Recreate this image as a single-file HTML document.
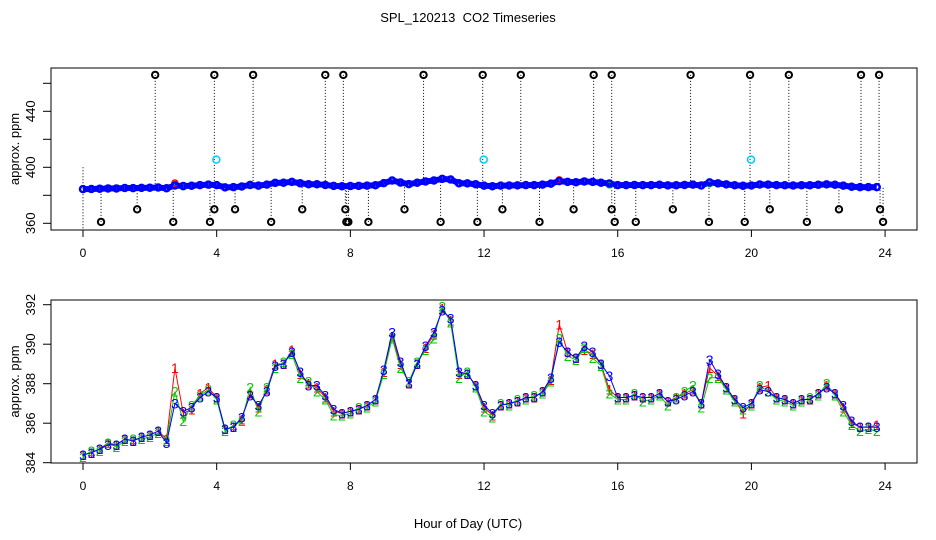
<!DOCTYPE html>
<html><head><meta charset="utf-8">
<style>
body{margin:0;background:#fff;}
svg{display:block;font-family:"Liberation Sans",sans-serif;}
</style></head>
<body>
<svg id="chart" width="936" height="540" viewBox="0 0 936 540" xmlns="http://www.w3.org/2000/svg">
<rect width="936" height="540" fill="#fff"/>
<text x="468" y="22" font-size="13" text-anchor="middle" xml:space="preserve">SPL_120213  CO2 Timeseries</text>
<text x="468" y="528" font-size="13" text-anchor="middle">Hour of Day (UTC)</text>
<g id="top"></g>
<g id="bot"></g>
</svg>
<script>
const hours = [0,0.25,0.5,0.75,1,1.25,1.5,1.75,2,2.25,2.5,2.75,3,3.25,3.5,3.75,4,4.25,4.5,4.75,5,5.25,5.5,5.75,6,6.25,6.5,6.75,7,7.25,7.5,7.75,8,8.25,8.5,8.75,9,9.25,9.5,9.75,10,10.25,10.5,10.75,11,11.25,11.5,11.75,12,12.25,12.5,12.75,13,13.25,13.5,13.75,14,14.25,14.5,14.75,15,15.25,15.5,15.75,16,16.25,16.5,16.75,17,17.25,17.5,17.75,18,18.25,18.5,18.75,19,19.25,19.5,19.75,20,20.25,20.5,20.75,21,21.25,21.5,21.75,22,22.25,22.5,22.75,23,23.25,23.5,23.75];
const series1 = [384.4,384.5,384.7,385.0,384.9,385.2,385.1,385.3,385.4,385.6,385.2,388.8,386.5,386.7,387.5,387.8,387.3,385.7,385.8,386.2,387.5,386.8,387.7,389.0,389.0,389.7,388.5,388.0,387.8,387.3,386.6,386.5,386.6,386.7,386.9,387.2,388.6,390.4,389.0,388.0,389.0,389.8,390.5,391.8,391.2,388.5,388.5,387.9,386.8,386.4,386.9,387.0,387.1,387.3,387.3,387.6,388.2,391.0,389.6,389.3,389.7,389.5,389.0,387.7,387.3,387.3,387.4,387.3,387.3,387.5,387.1,387.3,387.5,387.7,387.0,388.8,388.4,387.8,387.2,386.5,387.0,387.8,387.9,387.3,387.2,387.0,387.2,387.2,387.5,387.9,387.5,386.8,386.0,385.8,385.8,385.9];
const series2 = [384.3,384.6,384.6,385.0,384.8,385.1,385.2,385.2,385.3,385.5,385.1,387.6,386.1,386.9,387.4,387.7,387.2,385.6,385.9,386.1,387.8,386.6,387.8,388.8,389.1,389.5,388.3,388.1,387.6,387.2,386.4,386.4,386.5,386.8,386.8,387.1,388.5,390.3,388.8,388.1,389.1,389.7,390.3,391.9,391.1,388.3,388.6,387.8,386.6,386.3,387.0,386.9,387.2,387.2,387.4,387.5,388.1,390.3,389.4,389.2,389.8,389.3,388.9,387.5,387.2,387.2,387.5,387.1,387.2,387.4,386.9,387.3,387.6,387.9,386.8,388.3,388.3,387.7,387.1,386.7,386.9,387.9,387.6,387.2,387.1,386.9,387.1,387.3,387.4,388.0,387.4,386.6,385.9,385.6,385.7,385.6];
const series3 = [384.4,384.5,384.7,384.9,384.9,385.2,385.1,385.3,385.4,385.6,385.0,387.0,386.6,386.8,387.3,387.6,387.3,385.7,385.8,386.3,387.4,386.9,387.6,388.9,389.0,389.6,388.6,387.9,387.9,387.4,386.7,386.5,386.6,386.7,386.9,387.2,388.7,390.6,389.1,388.0,389.0,389.9,390.6,391.7,391.3,388.6,388.5,387.9,386.9,386.5,386.9,387.0,387.1,387.3,387.3,387.6,388.3,390.1,389.6,389.3,389.9,389.6,389.0,388.4,387.3,387.3,387.4,387.3,387.3,387.5,387.1,387.2,387.4,387.6,387.0,389.2,388.5,387.8,387.2,386.8,387.0,387.7,387.6,387.3,387.2,387.0,387.2,387.2,387.5,387.8,387.5,386.9,386.1,385.8,385.8,385.8];
const outlierHours = [2.16,3.93,5.09,7.25,7.79,10.19,11.96,13.1,15.28,15.82,18.18,19.96,21.12,23.28,23.82,0.54,2.7,3.8,5.63,7.88,7.94,8.54,10.7,11.8,13.66,15.91,16.54,18.73,19.8,21.66,23.94,1.62,3.93,4.55,6.56,7.85,9.62,12.55,14.68,15.82,17.65,20.55,22.62,23.85];
const outlierValues = [466,466,466,466,466,466,466,466,466,466,466,466,466,466,466,361,361,361,361,361,361,361,361,361,361,361,361,361,361,361,361,370,370,370,370,370,370,370,370,370,370,370,370,370];
const cyanHours = [3.99,11.99,19.99];
const cyanValues = [405.5,405.5,405.5];
const xTicks = [0,4,8,12,16,20,24];
const topYTicks = [360,380,400,420,440,460];
const topYLabels = [360,400,440];
const botYTicks = [384,386,388,390,392];

const NS='http://www.w3.org/2000/svg';
function mk(parent,tag,attrs){const e=document.createElementNS(NS,tag);for(const k in attrs)e.setAttribute(k,attrs[k]);parent.appendChild(e);return e;}
const X = h => 83 + h*33.42;
const Ytop = v => 223.3 - (v-360)*1.4;
const Ybot = v => 462.7 - (v-384)*19.75;

function axes(g, top, bottom, yf, yticks, ylabels, name){
  const box=mk(g,'rect',{x:51,y:top,width:866,height:bottom-top,fill:'none',stroke:'#000','stroke-width':1});
  
  
  xTicks.forEach(t=>{
    const l=mk(g,'line',{x1:X(t),x2:X(t),y1:bottom,y2:bottom+7,stroke:'#000'});
    
    
    const tx=mk(g,'text',{x:X(t),y:bottom+27,'font-size':12,'text-anchor':'middle'});
    tx.textContent=t;
    
    
  });
  yticks.forEach(t=>{
    const l=mk(g,'line',{x1:43,x2:51,y1:yf(t),y2:yf(t),stroke:'#000'});
    
    
  });
  ylabels.forEach(t=>{
    const tx=mk(g,'text',{x:0,y:0,'font-size':13,'text-anchor':'middle',transform:`translate(35,${yf(t)}) rotate(-90)`});
    tx.textContent=t;
    
    
  });
  const yt=mk(g,'text',{x:0,y:0,'font-size':13,'text-anchor':'middle',transform:`translate(19,${(top+bottom)/2}) rotate(-90)`});
  yt.textContent='approx. ppm';
  
  
}

// TOP PANEL
const gt=document.getElementById('top');
axes(gt,68,230,Ytop,topYTicks,topYLabels,'top');
const z=mk(gt,'line',{x1:X(0),x2:X(0),y1:Ytop(400),y2:230,stroke:'#000','stroke-dasharray':'1,2'});


outlierHours.forEach((h,i)=>{
  const near = series1[Math.min(hours.length-1,Math.round(h/0.25))];
  const l=mk(gt,'line',{x1:X(h),x2:X(h),y1:Ytop(outlierValues[i]),y2:Ytop(near),stroke:'#000','stroke-dasharray':'1,2'});
  
  
});
for(let i=0;i<hours.length-1;i++){
  const r=mk(gt,'line',{x1:X(hours[i]),x2:X(hours[i+1]),y1:Ytop(series3[i]),y2:Ytop(series3[i+1]),stroke:'#00f','stroke-width':6});
  
  
}
[[series1,'#f00'],[series2,'#0c0'],[series3,'#00f']].forEach(([s,c],k)=>{
  s.forEach((v,i)=>{
    const ci=mk(gt,'circle',{cx:X(hours[i]),cy:Ytop(v),r:3,fill:'none',stroke:c,'stroke-width':k==2?2.5:1.5});
    
    
  });
});
outlierHours.forEach((h,i)=>{
  const c=mk(gt,'circle',{cx:X(h),cy:Ytop(outlierValues[i]),r:3.2,fill:'none',stroke:'#000','stroke-width':2});
  
  
});
cyanHours.forEach((h,i)=>{
  const c=mk(gt,'circle',{cx:X(h),cy:Ytop(cyanValues[i]),r:3.5,fill:'none',stroke:'#0cf','stroke-width':1.5});
  
  
});

// BOTTOM PANEL
const gb=document.getElementById('bot');
axes(gb,300,463,Ybot,botYTicks,botYTicks,'bottom');
[[series1,'#f00','1'],[series2,'#0c0','2'],[series3,'#00f','3']].forEach(([s,c,lab])=>{
  const pts=s.map((v,i)=>X(hours[i])+','+Ybot(v)).join(' ');
  const pl=mk(gb,'polyline',{points:pts,fill:'none',stroke:c,'stroke-width':1});
  
  
  s.forEach((v,i)=>{
    const t=mk(gb,'text',{x:X(hours[i]),y:Ybot(v)+5,'font-size':14,'text-anchor':'middle',fill:c});
    t.textContent=lab;
    
    
  });
});
</script>
</body></html>
